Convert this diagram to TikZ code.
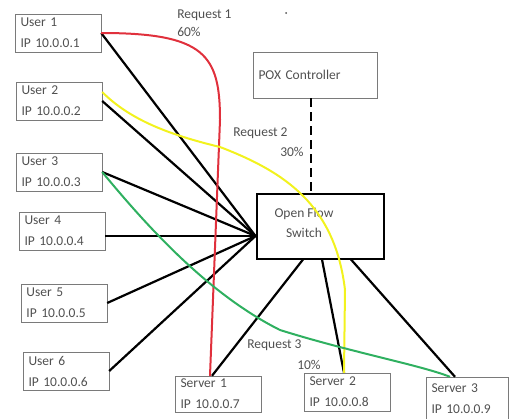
\documentclass[tikz,border=0pt]{standalone}
\usepackage{fontspec}
\setmainfont{Carlito}
\definecolor{boxgray}{HTML}{7A7A7A}
\definecolor{txtgray}{HTML}{505050}
\definecolor{reqred}{HTML}{E0303C}
\definecolor{reqyellow}{HTML}{F2F21E}
\definecolor{reqgreen}{HTML}{2FB060}

\begin{document}
\begin{tikzpicture}[x=1pt,y=-1pt,semithick,
  box/.style={draw=boxgray,thin,minimum width=86pt,minimum height=38pt,text width=75pt,
    inner xsep=5.5pt,inner ysep=1pt,align=left,text=txtgray,font=\fontsize{13.5}{21}\selectfont},
  lbl/.style={text=txtgray,font=\fontsize{13.5}{15}\selectfont,inner sep=0pt,anchor=west},
  link/.style={line width=2.2pt,black},
  req/.style={line width=2pt}]

\useasboundingbox (0,0) rectangle (509,418);

\node[box]		(user1) at (58,33)	{User 1\\IP 10.0.0.1};
\node[box]		(user2) at (59,101)	{User 2\\IP 10.0.0.2};
\node[box]		(user3) at (59,172)	{User 3\\IP 10.0.0.3};
\node[box]		(user4) at (62,231)	{User 4\\IP 10.0.0.4};
\node[box]		(user5) at (64,303)	{User 5\\IP 10.0.0.5};
\node[box]		(user6) at (66,371)	{User 6\\IP 10.0.0.6};

\node[box,minimum height=36pt]	(srv1) at (218,394)	{Server 1\\IP 10.0.0.7};
\node[box]		(srv2) at (347,392)	{Server 2\\IP 10.0.0.8};
\node[box,minimum width=82pt,text width=71pt,minimum height=44pt]	(srv3) at (467,399)	{Server 3\\IP 10.0.0.9};

\node[box,minimum width=124pt,minimum height=46pt,text width=113pt]	(pox) at (315,75)	{POX Controller};
\node[draw,line width=2pt,minimum width=127pt,minimum height=65pt]	(sw) at (320,226) {};
\node[text=txtgray,font=\fontsize{13.5}{20}\selectfont,align=center]	(swtxt) at (304,223)	{Open Flow\\Switch};

\coordinate (hub) at ([yshift=-10pt]sw.west);
\coordinate (ctl) at ([xshift=-4pt]pox.south);

\draw[line width=2.8pt,dash pattern=on 9pt off 5pt] (ctl) -- (ctl |- sw.north);

\path[link]
	(user1.east)	edge (hub)
	(user2.east)	edge (hub)
	(user3.east)	edge (hub)
	(user4.east |- hub)	edge (hub)
	(user5.east)	edge (hub)
	(user6.east)	edge (hub)
	([xshift=-17pt]sw.south)	edge ([xshift=-6pt]srv1.north)
	([xshift=2pt]sw.south)	edge ([xshift=-3pt]srv2.north)
	([xshift=31pt]sw.south)	edge ([xshift=-12pt]srv3.north);

% requests
\draw[req,reqred] (user1.east) .. controls (205,33) and (220,55) .. (220,120) -- ([xshift=-8pt]srv1.north);
\draw[req,reqyellow] ([yshift=9pt]user2.east) .. controls (130,120) and (170,135) .. (220,147)
	.. controls (285,172) and (335,205) .. (345,290) -- ([xshift=-3pt]srv2.north);
\draw[req,reqgreen] (user3.east) .. controls (150,230) and (210,295) .. (280,330)
	.. controls (350,352) and (420,365) .. ([xshift=-17pt]srv3.north);

\node[lbl] (req1) at (177,15)	{Request 1};
\node[lbl] (pct1) at (177,32)	{60\%};
\node[lbl] (req2) at (233,133)	{Request 2};
\node[lbl] (pct2) at (280,152)	{30\%};
\node[lbl] (req3) at (247,345)	{Request 3};
\node[lbl] (pct3) at (297,365)	{10\%};

\fill[txtgray] (286,13) circle (1pt);
\end{tikzpicture}
\end{document}
